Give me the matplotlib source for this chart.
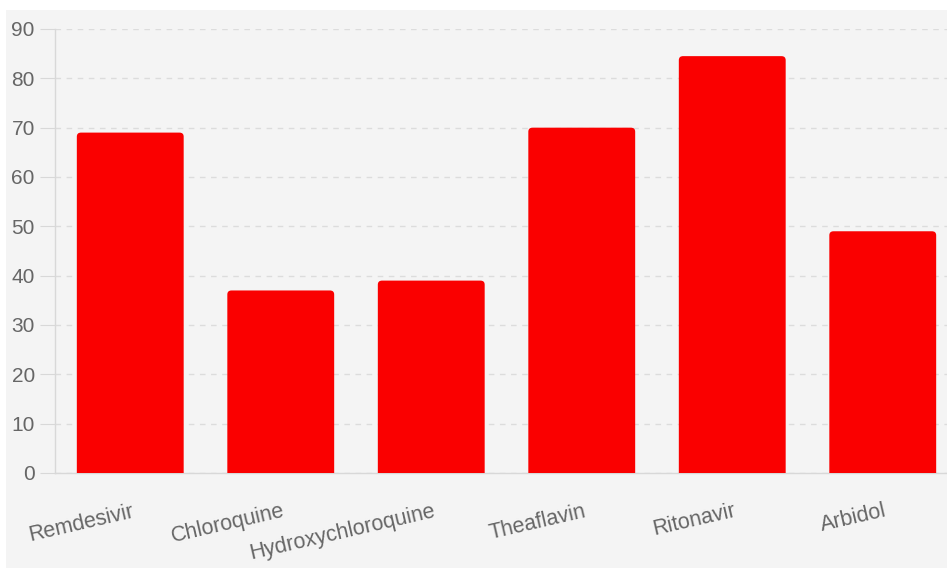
import matplotlib
matplotlib.use("Agg")
import matplotlib.pyplot as plt
from matplotlib.patches import FancyBboxPatch, Rectangle

categories = ["Remdesivir", "Chloroquine", "Hydroxychloroquine", "Theaflavin", "Ritonavir", "Arbidol"]
values = [69, 37, 39, 70, 84.5, 49]
yticks = [0, 10, 20, 30, 40, 50, 60, 70, 80, 90]

W, H = 947, 568
fig = plt.figure(figsize=(W / 100, H / 100), dpi=100)
fig.patch.set_facecolor("white")
fig.patches.append(Rectangle((6 / W, 0), 1, 1 - 10 / H, transform=fig.transFigure,
                             facecolor="#f4f4f4", edgecolor="none", zorder=-10))

left, right = 55 / W, 958 / W
bottom, top = 1 - 473 / H, 1 - 29 / H
ax = fig.add_axes([left, bottom, right - left, top - bottom])
ax.set_facecolor("none")

x = list(range(len(categories)))
bars = ax.bar(x, values, width=0.71, color="none", edgecolor="none")
for b in bars:
    bx, by = b.get_x(), b.get_y()
    bw, bh = b.get_width(), b.get_height()
    p = FancyBboxPatch((bx, by - 2), bw, bh + 2,
                       boxstyle="round,pad=0,rounding_size=0.028",
                       mutation_aspect=29, facecolor="#fa0000", edgecolor="none",
                       zorder=3, clip_on=True)
    ax.add_patch(p)

ax.set_xlim(-0.5, len(categories) - 0.5)
ax.set_ylim(0, 90)
ax.set_yticks(yticks)
ax.yaxis.grid(True, color="#dcdcdc", linestyle=(0, (4, 4)), linewidth=1)
ax.set_axisbelow(True)

for s in ["top", "right"]:
    ax.spines[s].set_visible(False)
for s in ["left", "bottom"]:
    ax.spines[s].set_color("#d8d8d8")
    ax.spines[s].set_linewidth(1)

ax.tick_params(axis="y", length=11, color="#d8d8d8", labelcolor="#666666",
               labelsize=15, pad=3.5)
ax.tick_params(axis="x", length=0, labelcolor="#666666", labelsize=15.5, pad=20)
for lbl in ax.yaxis.get_ticklabels():
    lbl.set_fontfamily("Liberation Sans")

ax.set_xticks(x)
ax.set_xticklabels(categories, rotation=13, ha="right", rotation_mode="anchor",
                   fontfamily="Liberation Sans")
offset = matplotlib.transforms.ScaledTranslation(1 / 100, 0, fig.dpi_scale_trans)
for lbl in ax.xaxis.get_ticklabels():
    lbl.set_transform(lbl.get_transform() + offset)

fig.savefig("out.png", dpi=100, facecolor=fig.get_facecolor())
